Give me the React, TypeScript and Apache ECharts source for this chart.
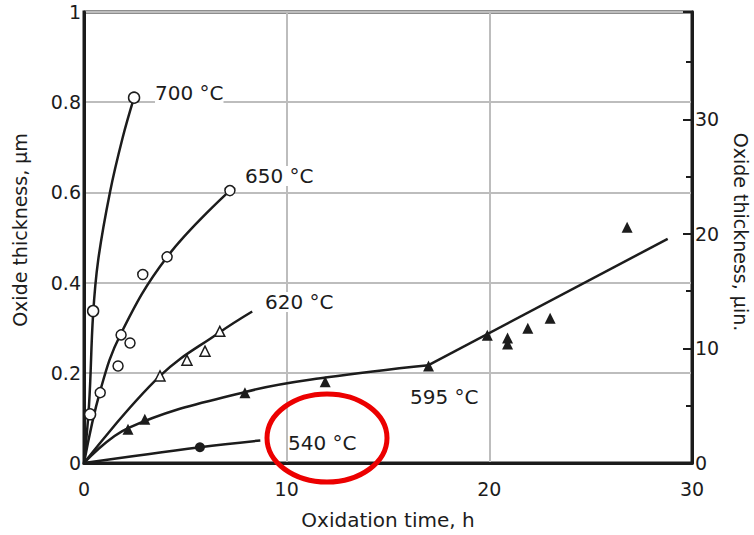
import React, { useEffect, useRef } from "react";
import * as echarts from "echarts";

// Oxidation time (h) vs oxide thickness (µm)
const xTicks = [0, 10, 20, 30];
const labels = ["700 °C", "650 °C", "620 °C", "595 °C", "540 °C"];

// fitted curves
const fit700 = [[0, 0], [0.25, 0.13], [0.45, 0.33], [0.7, 0.45], [1.28, 0.6], [1.9, 0.72], [2.47, 0.81]];
const fit650 = [[0, 0], [0.8, 0.16], [1.8, 0.285], [4.1, 0.457], [7.2, 0.604]];
const fit620 = [[0, 0], [3.75, 0.193], [6.7, 0.29], [8.3, 0.336]];
const fit595a = [[0, 0], [2.2, 0.078], [8, 0.158], [12, 0.19], [17, 0.217]];
const fit595b = [[17, 0.217], [28.8, 0.497]];
const fit540 = [[0, 0], [5.72, 0.035], [8.7, 0.05]];

// measured points
const pts700 = [[0.3, 0.108], [0.45, 0.337], [2.47, 0.81]];
const pts650 = [[0.8, 0.156], [1.68, 0.215], [1.83, 0.284], [2.27, 0.266], [2.9, 0.418], [4.1, 0.457], [7.2, 0.604]];
const pts620 = [[3.75, 0.193], [5.08, 0.228], [5.97, 0.248], [6.7, 0.292]];
const pts595 = [[2.17, 0.075], [3.0, 0.097], [7.94, 0.156], [11.9, 0.18], [17.0, 0.215], [19.9, 0.283], [20.9, 0.277], [20.9, 0.264], [21.9, 0.299], [23.0, 0.321], [26.8, 0.523]];
const pts540 = [[5.72, 0.035]];

const FONT = "DejaVu Sans";
const INK = "#1c1c1c";

export default function App() {
  const ref = useRef<HTMLDivElement>(null);
  useEffect(() => {
    if (!ref.current) return;
    const chart = echarts.init(ref.current, null, { renderer: "svg" });
    const lineS = (data: number[][], smooth: number | boolean) => ({
      type: "line",
      data,
      smooth,
      symbol: "none",
      lineStyle: { color: INK, width: 2.5 },
      z: 3,
      silent: true,
    });
    const scat = (data: number[][], symbol: string, size: number, filled: boolean) => ({
      type: "scatter",
      data,
      symbol,
      symbolSize: size,
      itemStyle: {
        color: filled ? INK : "#ffffff",
        borderColor: INK,
        borderWidth: filled ? 0 : 1.5,
        opacity: 1,
      },
      z: 4,
    });
    const labelPos = [
      [155, 93],
      [245, 176],
      [265, 302],
      [410, 397],
      [288, 443],
    ];
    chart.setOption({
      animation: false,
      backgroundColor: "#ffffff",
      grid: {
        left: 84,
        right: 62,
        top: 12,
        bottom: 69,
        show: true,
        borderColor: INK,
        borderWidth: 3,
        backgroundColor: "transparent",
      },
      xAxis: {
        type: "value",
        min: 0,
        max: 30,
        interval: 10,
        axisLine: { show: true, lineStyle: { color: INK, width: 3 } },
        axisTick: { show: false },
        axisLabel: {
          margin: 16,
          fontFamily: FONT,
          fontSize: 19,
          color: INK,
          formatter: (v: number) => (xTicks.includes(v) ? String(v) : ""),
        },
        splitLine: { show: true, lineStyle: { color: "#bdbdbd", width: 2 } },
        name: "Oxidation time, h",
        nameLocation: "middle",
        nameGap: 47,
        nameTextStyle: { fontFamily: FONT, fontSize: 20, color: INK },
      },
      yAxis: [
        {
          type: "value",
          min: 0,
          max: 1,
          interval: 0.2,
          axisLine: { show: true, lineStyle: { color: INK, width: 3 } },
          axisTick: { show: false },
          axisLabel: { margin: 3, fontFamily: FONT, fontSize: 19, color: INK },
          splitLine: { show: true, lineStyle: { color: "#bdbdbd", width: 2 } },
        },
        {
          type: "value",
          position: "right",
          min: 0,
          max: 39.37,
          interval: 10,
          axisLine: { show: true, lineStyle: { color: INK, width: 3 } },
          axisTick: { show: true, inside: true, length: 9, lineStyle: { color: INK, width: 2 } },
          minorTick: { show: true, splitNumber: 2, length: 6, lineStyle: { color: INK, width: 2 } },
          axisLabel: { margin: 3, fontFamily: FONT, fontSize: 19, color: INK, showMaxLabel: false },
          splitLine: { show: false },
        },
      ],
      series: [
        lineS(fit700, 0.4),
        lineS(fit650, 0.4),
        lineS(fit620, 0.4),
        lineS(fit595a, 0.4),
        lineS(fit595b, false),
        lineS(fit540, 0.4),
        scat(pts700, "circle", 11, false),
        scat(pts650, "circle", 10, false),
        scat(pts620, "triangle", 10, false),
        scat(pts595, "triangle", 11, true),
        scat(pts540, "circle", 10, true),
      ],
      graphic: [
        ...labels.map((t, i) => ({
          type: "text",
          x: labelPos[i][0],
          y: labelPos[i][1],
          z: 10,
          style: {
            text: t,
            fontFamily: FONT,
            fontSize: 20,
            fill: INK,
            align: "left",
            verticalAlign: "middle",
            backgroundColor: "#ffffff",
          },
        })),
        {
          type: "text",
          x: 20,
          y: 230,
          rotation: Math.PI / 2,
          z: 10,
          style: {
            text: "Oxide thickness, µm",
            fontFamily: FONT,
            fontSize: 19,
            fill: INK,
            align: "center",
            verticalAlign: "middle",
          },
        },
        {
          type: "text",
          x: 741,
          y: 232,
          rotation: -Math.PI / 2,
          z: 10,
          style: {
            text: "Oxide thickness, µin.",
            fontFamily: FONT,
            fontSize: 19,
            fill: INK,
            align: "center",
            verticalAlign: "middle",
          },
        },
        {
          type: "ellipse",
          z: 20,
          shape: { cx: 327, cy: 438, rx: 60, ry: 44 },
          style: { fill: "none", stroke: "#ec0000", lineWidth: 5 },
        },
      ],
    });
    return () => chart.dispose();
  }, []);
  return (
    <div
      ref={ref}
      style={{ position: "fixed", left: 0, top: 0, width: 754, height: 535, background: "#fff" }}
    />
  );
}
